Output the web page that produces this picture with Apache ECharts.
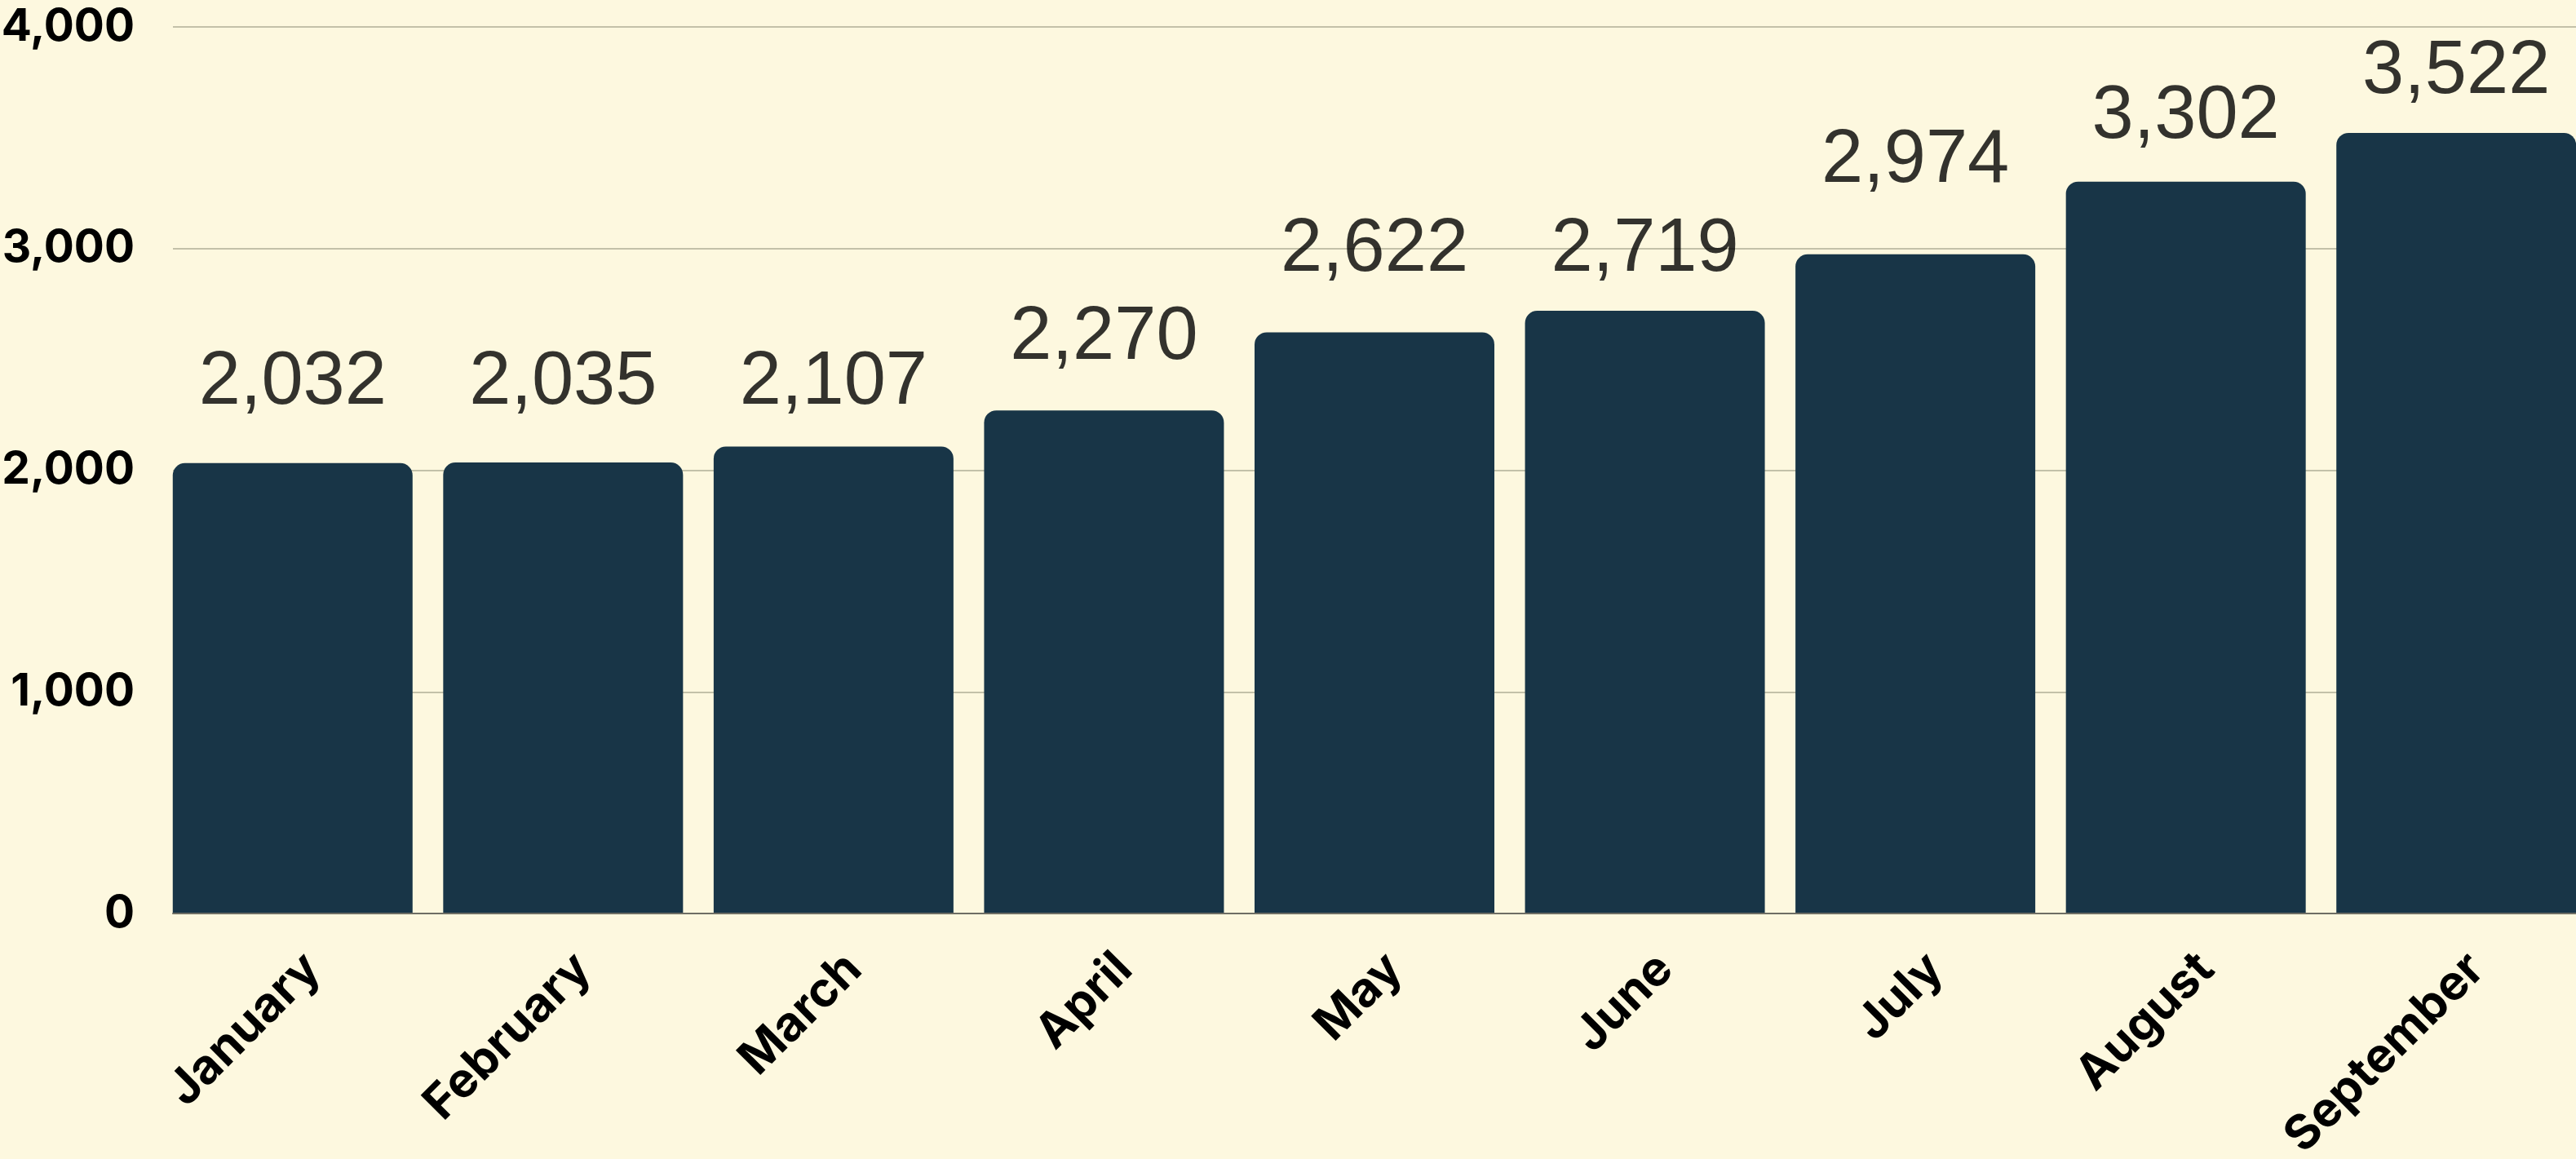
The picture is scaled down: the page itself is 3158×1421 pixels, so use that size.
<!DOCTYPE html>
<html>
<head>
<meta charset="utf-8">
<script src="https://cdn.jsdelivr.net/npm/echarts@6/dist/echarts.min.js"></script>
<style>
  html, body { margin: 0; padding: 0; background: #FDF8DF; }
  #chart { width: 3158px; height: 1421px; }
</style>
</head>
<body>
<div id="chart"></div>
<script>
// ---- data ----
const months = ['January', 'February', 'March', 'April', 'May', 'June', 'July', 'August', 'September'];
const values = [2032, 2035, 2107, 2270, 2622, 2719, 2974, 3302, 3522];
const yTicks = [0, 1000, 2000, 3000, 4000];

// ---- styling ----
const BG = '#FDF8DF';
const BAR = '#183547';
const GRID_LINE = '#C3C1A9';
const AXIS_LINE = '#6E6E64';
const AXIS_FONT = 'Inter, "Noto Sans", sans-serif';
const VALUE_FONT = '"Liberation Sans", Arial, sans-serif';

const yMin = yTicks[0];
const yMax = yTicks[yTicks.length - 1];
const yStep = yTicks[1] - yTicks[0];

// value labels in the reference sit on rows snapped to 200-unit steps
const labelRow = v => 200 * Math.ceil((v + 450) / 200) - 70;
const fmt = v => Number(v).toLocaleString('en-US');

const chart = echarts.init(document.getElementById('chart'), null, { renderer: 'canvas' });

const option = {
  animation: false,
  backgroundColor: BG,
  grid: [
    { left: 212, right: 0, top: 33, bottom: 301, containLabel: false, outerBoundsMode: 'none' },
    { left: 193, width: 2984, top: 33, bottom: 301, containLabel: false, outerBoundsMode: 'none' }
  ],
  xAxis: [
    {
      gridIndex: 0, type: 'category', data: months,
      axisLine: { show: true, lineStyle: { color: AXIS_LINE, width: 2 } },
      axisTick: { show: false }, axisLabel: { show: false }, splitLine: { show: false },
      z: 5
    },
    {
      gridIndex: 1, type: 'category', data: months,
      axisLine: { show: false }, axisTick: { show: false }, splitLine: { show: false },
      axisLabel: {
        show: true, interval: 0, rotate: 45, margin: 34,
        align: 'right', verticalAlign: 'top',
        fontFamily: AXIS_FONT, fontWeight: 700, fontSize: 59, color: '#000', lineHeight: 70
      }
    }
  ],
  yAxis: [
    {
      gridIndex: 0, type: 'value', min: yMin, max: yMax, interval: yStep,
      axisLine: { show: false }, axisTick: { show: false },
      splitLine: { show: true, lineStyle: { color: GRID_LINE, width: 2 } },
      axisLabel: {
        show: true, margin: 47, formatter: fmt,
        fontFamily: AXIS_FONT, fontWeight: 700, fontSize: 55, color: '#000'
      }
    },
    {
      gridIndex: 1, type: 'value', min: yMin, max: yMax, interval: yStep,
      axisLine: { show: false }, axisTick: { show: false },
      splitLine: { show: false }, axisLabel: { show: false }
    }
  ],
  series: [
    {
      type: 'bar', xAxisIndex: 1, yAxisIndex: 1,
      data: values, barWidth: 294,
      itemStyle: { color: BAR, borderRadius: [15, 15, 0, 0] },
      z: 2
    },
    {
      type: 'scatter', xAxisIndex: 1, yAxisIndex: 1,
      data: values.map((v, i) => [i, labelRow(v)]),
      symbolSize: 0, silent: true, z: 4,
      label: {
        show: true, position: 'bottom', distance: 0, offset: [0, -9],
        formatter: p => fmt(values[p.dataIndex]),
        fontFamily: VALUE_FONT, fontWeight: 400, fontSize: 92, color: '#000000'
      }
    }
  ]
};

chart.setOption(option);
</script>
</body>
</html>
